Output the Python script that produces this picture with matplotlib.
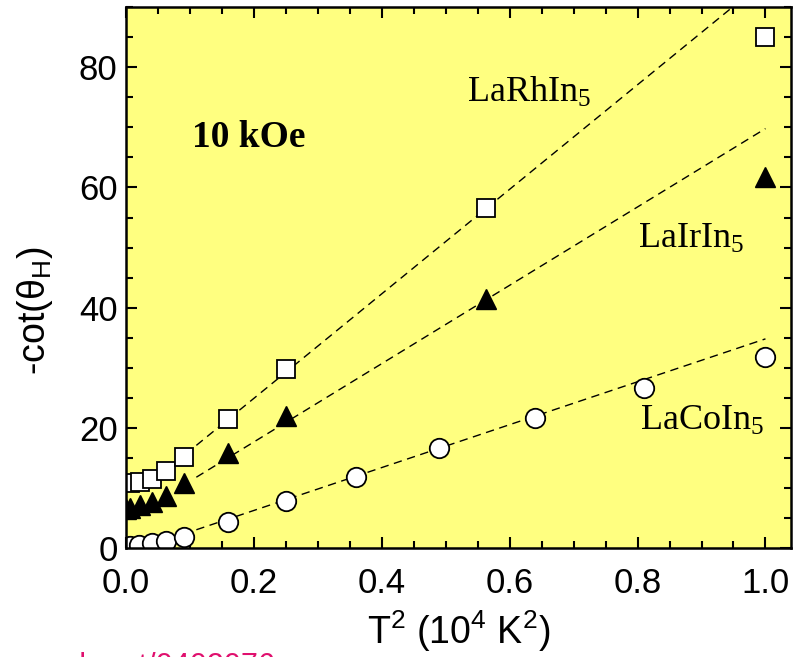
import numpy as np
import matplotlib
matplotlib.use("Agg")
import matplotlib.pyplot as plt
from matplotlib.ticker import MultipleLocator

# T^2 in units of 10^4 K^2, -cot(theta_H)
x_rh = [0.0064, 0.0225, 0.04, 0.0625, 0.09, 0.16, 0.25, 0.5625, 1.0]
y_rh = [10.8, 11.0, 11.5, 12.8, 15.2, 21.5, 29.8, 56.5, 85.0]

x_ir = [0.0, 0.0064, 0.0225, 0.04, 0.0625, 0.09, 0.16, 0.25, 0.5625, 1.0]
y_ir = [6.5, 6.7, 7.2, 7.6, 8.6, 10.8, 15.8, 22.0, 41.5, 61.8]

x_co = [0.0, 0.0064, 0.0196, 0.04, 0.0625, 0.09, 0.16, 0.25, 0.36, 0.49,
        0.64, 0.81, 1.0]
y_co = [0.1, 0.3, 0.5, 0.8, 1.2, 1.8, 4.3, 7.8, 11.8, 16.7, 21.7, 26.7, 31.8]

# linear fits (intercept, slope), drawn from x = 0.11 to 1.0
fit_rh = (7.5, 87.0)
fit_ir = (4.6, 65.2)
fit_co = (-0.9, 35.7)
fit_x = np.array([0.11, 1.0])

plt.rcParams['font.family'] = ['Liberation Sans', 'DejaVu Sans']
plt.rcParams['mathtext.default'] = 'regular'

fig = plt.figure(figsize=(8.0, 6.57), dpi=100)
ax = fig.add_axes([0.1575, 0.166, 0.8313, 0.823])
ax.set_facecolor('#ffff80')

for (b, m) in (fit_rh, fit_ir, fit_co):
    ax.plot(fit_x, b + m * fit_x, color='black', lw=1.0, dashes=(6, 4))

ax.plot(x_rh, y_rh, 's', ms=12.5, mfc='white', mec='black', mew=1.3)
ax.plot(x_ir, y_ir, '^', ms=14, mfc='black', mec='black', mew=1.0)
ax.plot(x_co, y_co, 'o', ms=14, mfc='white', mec='black', mew=1.3)

ax.set_xlim(0, 1.04)
ax.set_ylim(0, 90)
ax.xaxis.set_major_locator(MultipleLocator(0.2))
ax.xaxis.set_minor_locator(MultipleLocator(0.05))
ax.yaxis.set_major_locator(MultipleLocator(20))
ax.yaxis.set_minor_locator(MultipleLocator(5))
ax.xaxis.set_major_formatter(plt.FuncFormatter(lambda v, p: '%.1f' % v))
ax.tick_params(which='both', direction='in', top=True, right=True,
               width=1.5, labelsize=25)
ax.tick_params(which='major', length=8, pad=6)
ax.tick_params(which='minor', length=5)
ax.tick_params(axis='x', which='major', pad=14)
for s in ax.spines.values():
    s.set_linewidth(1.8)

ax.set_xlabel(r'T$^2$ (10$^4$ K$^2$)', fontsize=27, labelpad=6)
fig.text(35 / 800, 1 - 311 / 657, r'-cot($\theta_H$)', fontsize=27,
         rotation=90, ha='center', va='center')

serif = 'Liberation Serif'
ax.text(0.103, 66.8, '10 kOe', family=serif, fontsize=27, weight='bold')
ax.text(0.534, 74.3, r'LaRhIn$_5$', family=serif, fontsize=26)
ax.text(0.801, 50.0, r'LaIrIn$_5$', family=serif, fontsize=26)
ax.text(0.804, 19.7, r'LaCoIn$_5$', family=serif, fontsize=26)

fig.text(21 / 800, -18 / 657, 'cond-mat/0402076', color='#e0106e',
         fontsize=22, va='baseline', ha='left')

fig.savefig('out.png', dpi=100)
